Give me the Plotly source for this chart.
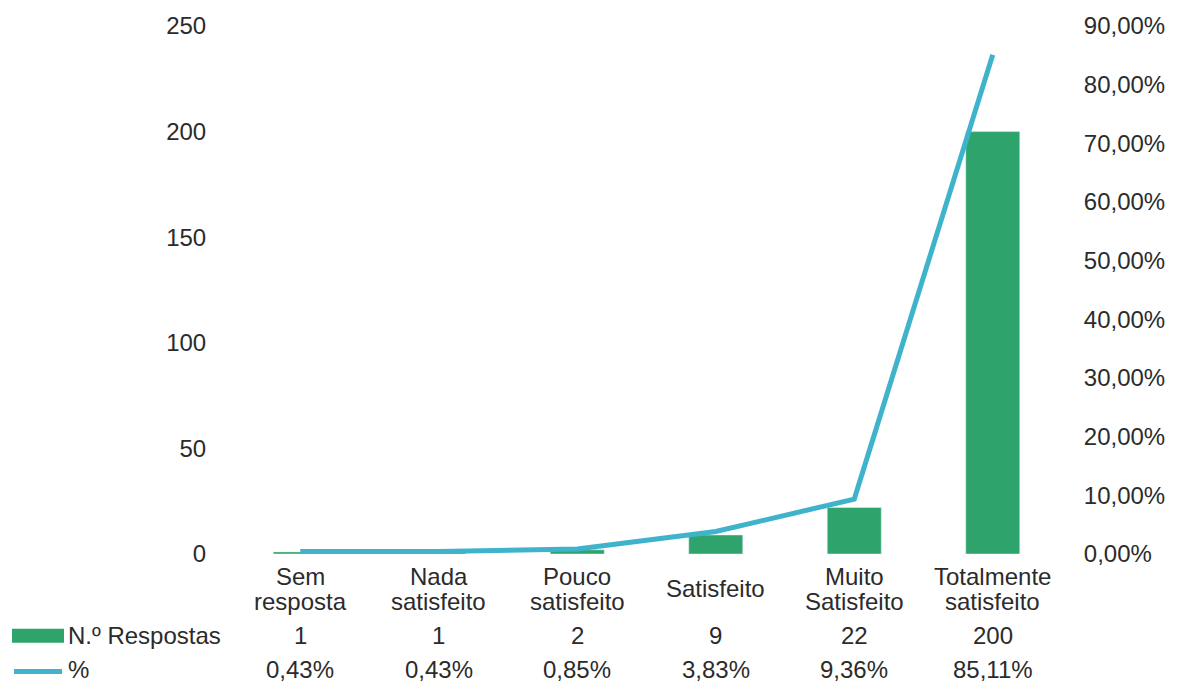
import plotly.graph_objects as go

categories = ["Sem resposta", "Nada satisfeito", "Pouco satisfeito",
              "Satisfeito", "Muito Satisfeito", "Totalmente satisfeito"]
category_lines = [["Sem", "resposta"], ["Nada", "satisfeito"], ["Pouco", "satisfeito"],
                  ["Satisfeito"], ["Muito", "Satisfeito"], ["Totalmente", "satisfeito"]]
respostas = [1, 1, 2, 9, 22, 200]
percent = [0.0043, 0.0043, 0.0085, 0.0383, 0.0936, 0.8511]
percent_labels = ["0,43%", "0,43%", "0,85%", "3,83%", "9,36%", "85,11%"]

left_ticks = [0, 50, 100, 150, 200, 250]
right_ticks = [i / 10 for i in range(10)]
right_tick_text = [f"{i*10},00%" for i in range(10)]

BAR_COLOR = "#2EA46C"
LINE_COLOR = "#3FB3CB"
TEXT_COLOR = "#2b2b2b"
FONT = "Liberation Sans, Arial, sans-serif"
FS = 24

W, H = 1180, 688
L, R, T, B = 231, 118, 24, 134
plot_h = H - T - B


def py_to_paper(py):
    return (H - B - py) / plot_h


def px_to_paper(px):
    return (px - L) / (W - L - R)


def label(x, xref, y, text, xanchor="center"):
    return dict(x=x, xref=xref, y=py_to_paper(y), yref="paper", text=text,
                xanchor=xanchor, yanchor="middle", showarrow=False,
                font=dict(size=FS, color=TEXT_COLOR, family=FONT))


fig = go.Figure()
fig.add_trace(go.Bar(x=categories, y=respostas, marker_color=BAR_COLOR,
                     width=0.39, name="N.º Respostas", yaxis="y"))
fig.add_trace(go.Scatter(x=categories, y=percent, mode="lines",
                         line=dict(color=LINE_COLOR, width=5),
                         name="%", yaxis="y2"))

annotations = []
# category names (two lines, tight spacing)
for cat, lines in zip(categories, category_lines):
    if len(lines) == 1:
        annotations.append(label(cat, "x", 589, lines[0]))
    else:
        annotations.append(label(cat, "x", 577, lines[0]))
        annotations.append(label(cat, "x", 602, lines[1]))

# data table under the category axis
for cat, n, p in zip(categories, respostas, percent_labels):
    annotations.append(label(cat, "x", 636, str(n)))
    annotations.append(label(cat, "x", 670, p))
annotations.append(label(px_to_paper(66), "paper", 636, "N.º Respostas", "left"))
annotations.append(label(px_to_paper(66), "paper", 670, "%", "left"))

shapes = [
    dict(type="rect", xref="paper", yref="paper",
         x0=px_to_paper(12), x1=px_to_paper(64),
         y0=py_to_paper(643), y1=py_to_paper(629),
         fillcolor=BAR_COLOR, line=dict(width=0)),
    dict(type="line", xref="paper", yref="paper",
         x0=px_to_paper(14), x1=px_to_paper(62),
         y0=py_to_paper(672), y1=py_to_paper(672),
         line=dict(color=LINE_COLOR, width=5)),
]

fig.update_layout(
    width=W, height=H,
    margin=dict(l=L, r=R, t=T, b=B),
    paper_bgcolor="white", plot_bgcolor="white",
    showlegend=False,
    font=dict(family=FONT, size=FS, color=TEXT_COLOR),
    xaxis=dict(showline=False, showgrid=False, zeroline=False,
               showticklabels=False, ticks=""),
    yaxis=dict(range=[0, 250], tickvals=left_ticks, showgrid=False,
               zeroline=False, showline=False, ticks="outside", ticklen=19,
               tickcolor="rgba(0,0,0,0)"),
    yaxis2=dict(range=[0, 0.9], tickvals=right_ticks, ticktext=right_tick_text,
                overlaying="y", side="right", showgrid=False, zeroline=False,
                showline=False, ticks="outside", ticklen=16,
                tickcolor="rgba(0,0,0,0)"),
    annotations=annotations,
    shapes=shapes,
)

fig.write_html("out.html")
